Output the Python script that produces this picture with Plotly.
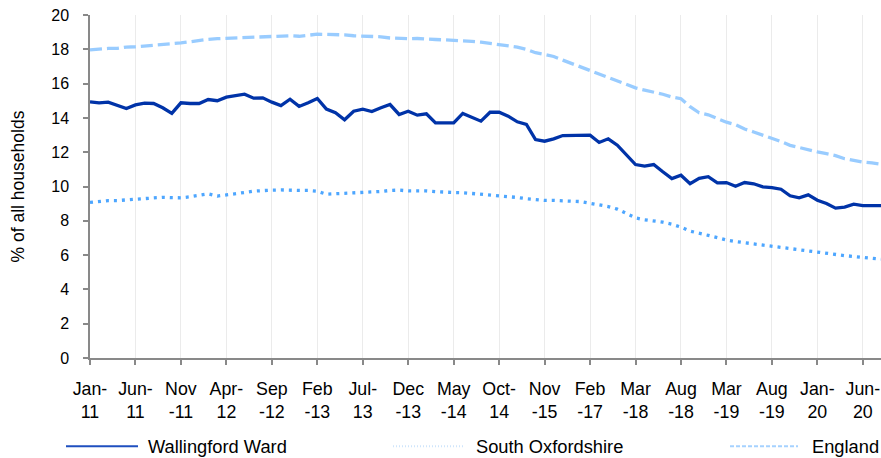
import plotly.graph_objects as go

CATEGORIES = (
    [f"{m}-{y}" for y in ["11", "12", "13"] for m in ["Jan", "Feb", "Mar", "Apr", "May", "Jun", "Jul", "Aug", "Sep", "Oct", "Nov", "Dec"]]
    + ["Jan-14", "Feb-14", "Mar-14", "Apr-14", "May-14", "Jun-14", "Jul-14", "Aug-14", "Sep-14", "Oct-14"]
    + ["Dec-14", "Mar-15", "Jun-15", "Sep-15", "Nov-15"]
    + ["Feb-16", "May-16", "Aug-16", "Nov-16", "Feb-17"]
    + ["May-17", "Aug-17", "Nov-17", "Jan-18", "Mar-18"]
    + ["Apr-18", "May-18", "Jun-18", "Jul-18", "Aug-18"]
    + ["Sep-18", "Nov-18", "Dec-18", "Feb-19", "Mar-19"]
    + ["Apr-19", "May-19", "Jun-19", "Jul-19", "Aug-19"]
    + ["Sep-19", "Oct-19", "Nov-19", "Dec-19", "Jan-20"]
    + ["Feb-20", "Mar-20", "Apr-20", "May-20", "Jun-20", "Jul-20", "Aug-20"]
)

TICK_LABELS = ["Jan-<br>11", "Jun-<br>11", "Nov<br>-11", "Apr-<br>12", "Sep<br>-12", "Feb<br>-13",
               "Jul-<br>13", "Dec<br>-13", "May<br>-14", "Oct-<br>14", "Nov<br>-15", "Feb<br>-17",
               "Mar<br>-18", "Aug<br>-18", "Mar<br>-19", "Aug<br>-19", "Jan-<br>20", "Jun-<br>20"]

WALLINGFORD = [14.94, 14.88, 14.92, 14.74, 14.55, 14.76, 14.86, 14.84, 14.59, 14.26,
               14.88, 14.84, 14.84, 15.07, 15.00, 15.21, 15.31, 15.38, 15.15, 15.17,
               14.92, 14.72, 15.09, 14.67, 14.88, 15.13, 14.51, 14.30, 13.89, 14.39,
               14.51, 14.37, 14.59, 14.78, 14.20, 14.39, 14.16, 14.24, 13.71, 13.71,
               13.71, 14.26, 14.04, 13.81, 14.33, 14.33, 14.10, 13.77, 13.62, 12.74,
               12.64, 12.78, 12.97, 12.99, 12.99, 12.99, 12.57, 12.78, 12.41, 11.87,
               11.28, 11.19, 11.28, 10.86, 10.46, 10.66, 10.16, 10.47, 10.57, 10.21,
               10.23, 10.02, 10.23, 10.16, 9.98, 9.94, 9.84, 9.46, 9.34, 9.51,
               9.20, 9.01, 8.74, 8.80, 8.97, 8.89, 8.89, 8.89]

SOUTH_OXFORDSHIRE = [9.07, 9.14, 9.18, 9.18, 9.22, 9.25, 9.27, 9.31, 9.37, 9.35,
                     9.34, 9.40, 9.47, 9.57, 9.44, 9.50, 9.58, 9.65, 9.73, 9.77,
                     9.79, 9.80, 9.77, 9.77, 9.77, 9.72, 9.55, 9.57, 9.61, 9.63,
                     9.64, 9.67, 9.71, 9.77, 9.79, 9.74, 9.75, 9.74, 9.70, 9.66,
                     9.65, 9.64, 9.60, 9.53, 9.52, 9.47, 9.42, 9.36, 9.29, 9.24,
                     9.19, 9.19, 9.15, 9.14, 9.12, 9.02, 8.95, 8.83, 8.68, 8.45,
                     8.17, 8.06, 8.00, 7.92, 7.80, 7.63, 7.40, 7.25, 7.15, 7.02,
                     6.88, 6.79, 6.72, 6.65, 6.57, 6.51, 6.46, 6.36, 6.28, 6.23,
                     6.15, 6.08, 6.03, 5.97, 5.92, 5.87, 5.82, 5.76]

ENGLAND = [17.97, 18.02, 18.05, 18.05, 18.13, 18.15, 18.19, 18.22, 18.25, 18.30,
           18.37, 18.44, 18.52, 18.58, 18.62, 18.64, 18.69, 18.71, 18.73, 18.74,
           18.76, 18.79, 18.79, 18.76, 18.82, 18.88, 18.87, 18.86, 18.84, 18.79,
           18.78, 18.78, 18.73, 18.66, 18.62, 18.62, 18.63, 18.62, 18.57, 18.55,
           18.53, 18.50, 18.46, 18.42, 18.35, 18.30, 18.23, 18.13, 18.00, 17.80,
           17.70, 17.58, 17.37, 17.17, 16.98, 16.80, 16.60, 16.40, 16.20, 15.97,
           15.75, 15.62, 15.52, 15.38, 15.22, 15.12, 14.65, 14.30, 14.18, 13.95,
           13.75, 13.60, 13.35, 13.18, 13.00, 12.78, 12.62, 12.40, 12.27, 12.12,
           12.02, 11.92, 11.80, 11.62, 11.52, 11.43, 11.38, 11.30]

SERIES_NAMES = ["Wallingford Ward", "South Oxfordshire", "England"]
COLORS = ["#0033A8", "#4DA6FF", "#99CCFF"]
DASHES = ["solid", "3px,5px", "12px,5px"]
LEGEND_DASHES = ["solid", "1px,2px", "4px,2px"]
LEGEND_COLORS = ["#1F4FBF", "#CFE5FB", "#A6D2FF"]

FONT = "Liberation Sans, Arial, sans-serif"
W, H = 881, 458
ML, MR, MT, MB = 90, 0, 15, 99.5
PW, PH = W - ML - MR, H - MT - MB


def px_x(p):
    return (p - ML) / PW


def px_y(p):
    return (H - MB - p) / PH


fig = go.Figure()
for name, vals, col, dash in zip(SERIES_NAMES, [WALLINGFORD, SOUTH_OXFORDSHIRE, ENGLAND], COLORS, DASHES):
    fig.add_trace(go.Scatter(x=CATEGORIES, y=vals, name=name, mode="lines",
                             line=dict(color=col, width=3.3, dash=dash), showlegend=False,
                             hoverinfo="skip"))

# legend drawn as line samples + text below the chart
LEG_LINE_X = [(66, 138), (393, 463), (730, 798)]
LEG_TEXT_X = [146, 474, 810]
LEG_Y = 447
for (x0, x1), tx, name, col, dash in zip(LEG_LINE_X, LEG_TEXT_X, SERIES_NAMES, LEGEND_COLORS, LEGEND_DASHES):
    fig.add_shape(type="line", xref="paper", yref="paper",
                  x0=px_x(x0), x1=px_x(x1), y0=px_y(LEG_Y), y1=px_y(LEG_Y),
                  line=dict(color=col, width=2, dash=dash))
    fig.add_annotation(xref="paper", yref="paper", x=px_x(tx), y=px_y(LEG_Y),
                       xanchor="left", yanchor="middle", text=name, showarrow=False,
                       font=dict(size=18.3, family=FONT, color="#000000"))

fig.update_layout(
    width=W, height=H,
    margin=dict(l=ML, r=MR, t=MT, b=MB, autoexpand=False),
    paper_bgcolor="white", plot_bgcolor="white",
    font=dict(family=FONT, size=16, color="#000000"),
    showlegend=False,
)
fig.update_xaxes(
    type="category", range=[0, len(CATEGORIES) - 1], automargin=False,
    tickmode="array", tickvals=CATEGORIES[::5], ticktext=TICK_LABELS,
    tickangle=0, showline=True, linecolor="#898989", linewidth=1.5,
    ticks="outside", ticklen=5, tickcolor="#898989", tickwidth=1.5,
    showgrid=True, gridcolor="#EBEBEB", gridwidth=1.3,
    ticklabelstandoff=9, tickfont=dict(size=17.8), zeroline=False,
)
fig.update_yaxes(
    range=[0, 20], tickmode="linear", tick0=0, dtick=2, automargin=False,
    showline=True, linecolor="#898989", linewidth=1.5,
    ticks="outside", ticklen=5, tickcolor="#898989", tickwidth=1.5,
    showgrid=False, zeroline=False, ticklabelstandoff=11,
    tickfont=dict(size=16),
    title=dict(text="% of all households", font=dict(size=17.5), standoff=22),
)

fig.write_html("out.html", config={"displayModeBar": False},
               post_script="document.body.style.margin='0';document.body.style.overflow='hidden';")
